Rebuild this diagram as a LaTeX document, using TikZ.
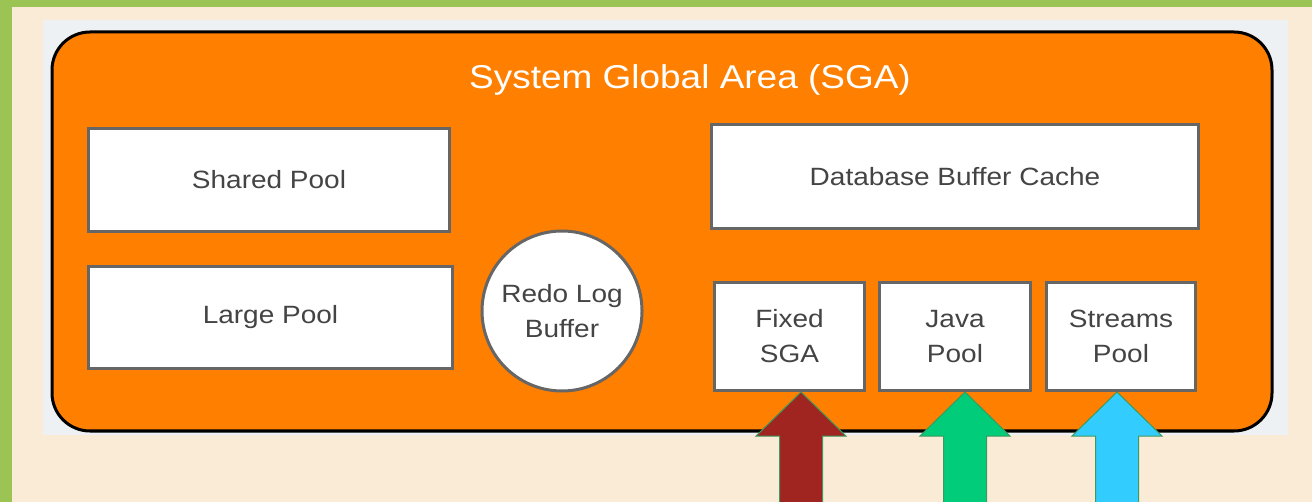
\documentclass[tikz,border=0pt]{standalone}
\usepackage{fontspec}
\setmainfont{Liberation Sans}[FakeStretch=1.12]
\usetikzlibrary{calc}
\definecolor{leafgreen}{HTML}{9BC455}
\definecolor{creambg}{HTML}{FAEBD7}
\definecolor{paleslate}{HTML}{EEF1F3}
\definecolor{sgaorange}{HTML}{FF7F00}
\definecolor{boxgrey}{HTML}{666666}
\definecolor{labelgrey}{HTML}{444444}
\definecolor{fixedred}{HTML}{A02420}
\definecolor{javagreen}{HTML}{00CC7A}
\definecolor{streamcyan}{HTML}{33CCFF}
\definecolor{tipedge}{HTML}{3C9A5C}
\begin{document}
\begin{tikzpicture}[x=1pt,y=-1pt,
	pool/.style={draw=boxgrey,line width=3pt,fill=white,rectangle,inner sep=0pt,
		text=labelgrey,font=\fontsize{25}{35}\selectfont,align=center},
	blockarrow/.style={draw=tipedge,line width=1pt,line join=miter}]
		\useasboundingbox (0,0) rectangle (1312,502);
		\fill[leafgreen] (0,0) rectangle (1312,502);
		\fill[creambg] (12,7) rectangle (1312,502);
		\fill[paleslate] (43,20) rectangle (1288,435);
		\draw[fill=sgaorange,line width=3pt,rounded corners=38pt] (52,32) rectangle (1272,431);
		\node[text=white,font=\fontsize{33}{40}\selectfont] (sga) at (690,80) {System Global Area (SGA)};

		\node[pool,minimum width=361pt,minimum height=103pt] (shared) at (269,180) {Shared Pool};
		\node[pool,minimum width=364pt,minimum height=102pt] (large) at (270.5,317.5) {Large Pool};
		\node[pool,circle,minimum size=160pt] (redo) at (562,311) {Redo Log\\Buffer};
		\node[pool,minimum width=487pt,minimum height=104pt] (dbcache) at (955,176.5) {Database Buffer Cache};
		\node[pool,minimum width=150pt,minimum height=108pt] (fixed) at (789.5,336.5) {Fixed\\SGA};
		\node[pool,minimum width=151pt,minimum height=108pt] (java) at (955,336.5) {Java\\Pool};
		\node[pool,minimum width=149pt,minimum height=108pt] (streams) at (1121,336.5) {Streams\\Pool};

		\path
		(801,502) coordinate (fixedin)
		(965,502) coordinate (javain)
		(1117,502) coordinate (streamsin)
		;
		\foreach \src/\dst/\col in {fixedin/fixed/fixedred,javain/java/javagreen,streamsin/streams/streamcyan}{
			\path (\src |- \dst.south) coordinate (\src tip);
			\draw[blockarrow,fill=\col]
			(\src tip) -- ($(\src tip)+(45,44)$) -- ($(\src tip)+(21.5,44)$)
			-- ($(\src)+(21.5,1)$) -- ($(\src)+(-21.5,1)$)
			-- ($(\src tip)+(-21.5,44)$) -- ($(\src tip)+(-45,44)$) -- cycle;
		}
\end{tikzpicture}
\end{document}
